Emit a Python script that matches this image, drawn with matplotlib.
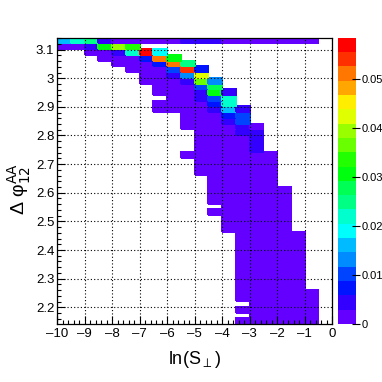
import numpy as np
import matplotlib
matplotlib.use("Agg")
import matplotlib.pyplot as plt
from matplotlib.colors import ListedColormap, BoundaryNorm
from matplotlib.ticker import MultipleLocator, FuncFormatter
import colorsys

plt.rcParams['font.family'] = ['Liberation Sans', 'DejaVu Sans']

# ---- data -------------------------------------------------------------
x_range = (-10.0, 0.0)          # ln(S_perp) axis
n_xbins = 20
y_range = (np.pi - 1.0, np.pi)  # delta phi axis
n_ybins = 50
z_max = 0.0585

# bin contents, one list per Δφ row, top row (Δφ ≈ π) first,
# 20 columns from ln(S⊥) = -10 to 0
rows = [
    [.016, .022, .025, .0044, .0015, .0015, .0015, .0015, .0015, .0040, .0040, .0040, .0015, .0015, .0015, .0015, .0015, .0015, .0015, 0],
    [.0015, .0015, .0044, .031, .039, .034, 0, 0, 0, 0, 0, 0, 0, 0, 0, 0, 0, 0, 0, 0],
    [0, 0, .0015, .0015, .0044, .022, .058, .019, 0, 0, 0, 0, 0, 0, 0, 0, 0, 0, 0, 0],
    [0, 0, 0, .0015, .0015, .0015, .0073, .051, .031, 0, 0, 0, 0, 0, 0, 0, 0, 0, 0, 0],
    [0, 0, 0, 0, .0015, .0015, .0015, .0073, .051, .025, 0, 0, 0, 0, 0, 0, 0, 0, 0, 0],
    [0, 0, 0, 0, 0, .0015, .0015, .0015, .0102, .054, .0073, 0, 0, 0, 0, 0, 0, 0, 0, 0],
    [0, 0, 0, 0, 0, 0, .0015, .0015, .0044, .0131, .042, 0, 0, 0, 0, 0, 0, 0, 0, 0],
    [0, 0, 0, 0, 0, 0, .0015, .0015, .0015, .0044, .036, .0131, 0, 0, 0, 0, 0, 0, 0, 0],
    [0, 0, 0, 0, 0, 0, 0, .0015, .0015, .0015, .0102, .028, 0, 0, 0, 0, 0, 0, 0, 0],
    [0, 0, 0, 0, 0, 0, 0, .0015, .0015, .0015, .0044, .031, .0044, 0, 0, 0, 0, 0, 0, 0],
    [0, 0, 0, 0, 0, 0, 0, 0, .0015, .0015, .0044, .0102, .022, 0, 0, 0, 0, 0, 0, 0],
    [0, 0, 0, 0, 0, 0, 0, .0015, .0015, .0015, .0015, .0073, .022, 0, 0, 0, 0, 0, 0, 0],
    [0, 0, 0, 0, 0, 0, 0, .0015, .0015, .0015, .0015, .0044, .016, .0044, 0, 0, 0, 0, 0, 0],
    [0, 0, 0, 0, 0, 0, 0, 0, 0, .0015, .0015, .0015, .0073, .0115, 0, 0, 0, 0, 0, 0],
    [0, 0, 0, 0, 0, 0, 0, 0, 0, .0015, .0015, .0015, .0044, .0115, 0, 0, 0, 0, 0, 0],
    [0, 0, 0, 0, 0, 0, 0, 0, 0, .0015, .0015, .0015, .0015, .0044, .0015, 0, 0, 0, 0, 0],
    [0, 0, 0, 0, 0, 0, 0, 0, 0, 0, .0015, .0015, .0015, .0044, .0044, 0, 0, 0, 0, 0],
    [0, 0, 0, 0, 0, 0, 0, 0, 0, 0, .0015, .0015, .0015, .0015, .0044, 0, 0, 0, 0, 0],
    [0, 0, 0, 0, 0, 0, 0, 0, 0, 0, .0015, .0015, .0015, .0015, .0044, 0, 0, 0, 0, 0],
    [0, 0, 0, 0, 0, 0, 0, 0, 0, 0, .0015, .0015, .0015, .0015, .0044, 0, 0, 0, 0, 0],
    [0, 0, 0, 0, 0, 0, 0, 0, 0, .0015, .0015, .0015, .0015, .0015, .0015, .0015, 0, 0, 0, 0],
    [0, 0, 0, 0, 0, 0, 0, 0, 0, 0, .0015, .0015, .0015, .0015, .0015, .0015, 0, 0, 0, 0],
    [0, 0, 0, 0, 0, 0, 0, 0, 0, 0, .0015, .0015, .0015, .0015, .0015, .0015, 0, 0, 0, 0],
    [0, 0, 0, 0, 0, 0, 0, 0, 0, 0, .0015, .0015, .0015, .0015, .0015, .0015, 0, 0, 0, 0],
    [0, 0, 0, 0, 0, 0, 0, 0, 0, 0, 0, .0015, .0015, .0015, .0015, .0015, 0, 0, 0, 0],
    [0, 0, 0, 0, 0, 0, 0, 0, 0, 0, 0, .0015, .0015, .0015, .0015, .0015, 0, 0, 0, 0],
    [0, 0, 0, 0, 0, 0, 0, 0, 0, 0, 0, .0015, .0015, .0015, .0015, .0015, .0015, 0, 0, 0],
    [0, 0, 0, 0, 0, 0, 0, 0, 0, 0, 0, .0015, .0015, .0015, .0015, .0015, .0015, 0, 0, 0],
    [0, 0, 0, 0, 0, 0, 0, 0, 0, 0, 0, .0015, .0015, .0015, .0015, .0015, .0015, 0, 0, 0],
    [0, 0, 0, 0, 0, 0, 0, 0, 0, 0, 0, 0, .0015, .0015, .0015, .0015, .0015, 0, 0, 0],
    [0, 0, 0, 0, 0, 0, 0, 0, 0, 0, 0, .0015, .0015, .0015, .0015, .0015, .0015, 0, 0, 0],
    [0, 0, 0, 0, 0, 0, 0, 0, 0, 0, 0, 0, .0015, .0015, .0015, .0015, .0015, 0, 0, 0],
    [0, 0, 0, 0, 0, 0, 0, 0, 0, 0, 0, 0, .0015, .0015, .0015, .0015, .0015, 0, 0, 0],
    [0, 0, 0, 0, 0, 0, 0, 0, 0, 0, 0, 0, .0015, .0015, .0015, .0015, .0015, 0, 0, 0],
    [0, 0, 0, 0, 0, 0, 0, 0, 0, 0, 0, 0, 0, .0015, .0015, .0015, .0015, .0015, 0, 0],
    [0, 0, 0, 0, 0, 0, 0, 0, 0, 0, 0, 0, 0, .0015, .0015, .0015, .0015, .0015, 0, 0],
    [0, 0, 0, 0, 0, 0, 0, 0, 0, 0, 0, 0, 0, .0015, .0015, .0015, .0015, .0015, 0, 0],
    [0, 0, 0, 0, 0, 0, 0, 0, 0, 0, 0, 0, 0, .0015, .0015, .0015, .0015, .0015, 0, 0],
    [0, 0, 0, 0, 0, 0, 0, 0, 0, 0, 0, 0, 0, .0015, .0015, .0015, .0015, .0015, 0, 0],
    [0, 0, 0, 0, 0, 0, 0, 0, 0, 0, 0, 0, 0, .0015, .0015, .0015, .0015, .0015, 0, 0],
    [0, 0, 0, 0, 0, 0, 0, 0, 0, 0, 0, 0, 0, .0015, .0015, .0015, .0015, .0015, 0, 0],
    [0, 0, 0, 0, 0, 0, 0, 0, 0, 0, 0, 0, 0, .0015, .0015, .0015, .0015, .0015, 0, 0],
    [0, 0, 0, 0, 0, 0, 0, 0, 0, 0, 0, 0, 0, .0015, .0015, .0015, .0015, .0015, 0, 0],
    [0, 0, 0, 0, 0, 0, 0, 0, 0, 0, 0, 0, 0, .0015, .0015, .0015, .0015, .0015, 0, 0],
    [0, 0, 0, 0, 0, 0, 0, 0, 0, 0, 0, 0, 0, .0015, .0015, .0015, .0015, .0015, .0015, 0],
    [0, 0, 0, 0, 0, 0, 0, 0, 0, 0, 0, 0, 0, .0015, .0015, .0015, .0015, .0015, .0015, 0],
    [0, 0, 0, 0, 0, 0, 0, 0, 0, 0, 0, 0, 0, 0, .0015, .0015, .0015, .0015, .0015, 0],
    [0, 0, 0, 0, 0, 0, 0, 0, 0, 0, 0, 0, 0, .0015, .0015, .0015, .0015, .0015, .0015, 0],
    [0, 0, 0, 0, 0, 0, 0, 0, 0, 0, 0, 0, 0, 0, .0015, .0015, .0015, .0015, .0015, 0],
    [0, 0, 0, 0, 0, 0, 0, 0, 0, 0, 0, 0, 0, .0015, .0015, .0015, .0015, .0015, .0015, 0],
]

x_ticks = [-10, -9, -8, -7, -6, -5, -4, -3, -2, -1, 0]
y_ticks = [2.2, 2.3, 2.4, 2.5, 2.6, 2.7, 2.8, 2.9, 3.0, 3.1]
z_ticks = [0, 0.01, 0.02, 0.03, 0.04, 0.05]

# ---- ROOT "pretty" palette, 20 contour levels ------------------------
n_levels = 20
pal = []
for k in range(n_levels):
    j = int((k + 0.99) * 50 / n_levels)
    if j >= 49:
        pal.append((1.0, 0.0, 0.0))
    else:
        hue = 280.0 - (j + 1) * 5.6
        pal.append(colorsys.hls_to_rgb(hue / 360.0, 0.5, 1.0))
cmap = ListedColormap(pal)
cmap.set_over(pal[-1])
levels = np.linspace(0, z_max, n_levels + 1)
norm = BoundaryNorm(levels, cmap.N)

Z = np.array(rows[::-1], dtype=float)
Z = np.ma.masked_where(Z <= 0, Z)
xe = np.linspace(x_range[0], x_range[1], n_xbins + 1)
ye = np.linspace(y_range[0], y_range[1], n_ybins + 1)

# ---- figure -----------------------------------------------------------
W = H = 382
fig = plt.figure(figsize=(W / 100, H / 100), dpi=100)
ax = fig.add_axes([57 / W, 1 - 324 / H, (332 - 57) / W, (324 - 37.7) / H])
cax = fig.add_axes([337.7 / W, 1 - 324 / H, 18 / W, (324 - 37.7) / H])

mesh = ax.pcolormesh(xe, ye, Z, cmap=cmap, norm=norm, shading='flat',
                     edgecolors='face', linewidth=0.3, zorder=1)

ax.set_xlim(*x_range)
ax.set_ylim(*y_range)
ax.set_xticks(x_ticks)
ax.set_yticks(y_ticks)
ax.xaxis.set_minor_locator(MultipleLocator(0.2))
ax.yaxis.set_minor_locator(MultipleLocator(0.02))
ax.xaxis.set_major_formatter(FuncFormatter(lambda v, p: ('%g' % v).replace('-', '\u2013')))
ax.yaxis.set_major_formatter(FuncFormatter(lambda v, p: '%g' % round(v, 2)))
ax.tick_params(which='both', direction='in', top=False, right=False,
               labelsize=9.5, width=0.8, color='black')
ax.tick_params(axis='x', pad=3)
ax.tick_params(axis='y', pad=2)
ax.tick_params(which='major', length=6)
ax.tick_params(which='minor', length=3)
ax.grid(True, which='major', linestyle=(0, (1, 2)), color='black', linewidth=0.8, zorder=3)
ax.set_axisbelow(False)
for s in ax.spines.values():
    s.set_linewidth(0.9)

ax.set_xlabel('ln(S$_{\\perp}$)', fontsize=13, labelpad=6)
ax.set_ylabel('\u0394 \u03c6$^{\\mathrm{AA}}_{\\mathrm{12}}$', fontsize=14)
ax.yaxis.set_label_coords(-0.088, 0.47)

cb = fig.colorbar(mesh, cax=cax, ticks=z_ticks, extend='neither')
cb.outline.set_visible(False)
cb.ax.yaxis.set_major_formatter(FuncFormatter(lambda v, p: '%g' % round(v, 3)))
cb.ax.tick_params(labelsize=8, direction='inout', length=6, width=0.8, pad=1)
cb.ax.minorticks_off()

fig.savefig('out.png', dpi=100)
